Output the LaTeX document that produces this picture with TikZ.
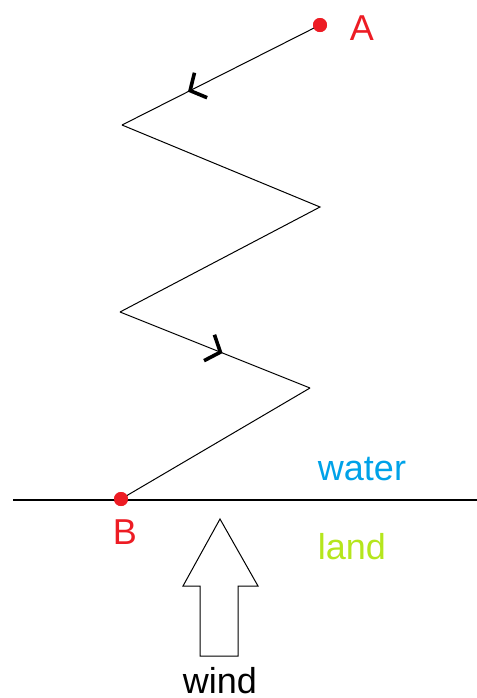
\documentclass[tikz,border=0pt]{standalone}
\usepackage{fontspec}
\setmainfont{Liberation Sans}
\usepackage{tikz}
\usetikzlibrary{arrows.meta,positioning,decorations.markings}
\definecolor{paintred}{HTML}{ED1C24}
\definecolor{paintblue}{HTML}{00A2E8}
\definecolor{paintlime}{HTML}{B5E61D}

\begin{document}
\begin{tikzpicture}[
  x=0.5pt,y=-0.5pt,
  font=\fontsize{18}{18}\selectfont,
  dot/.style={circle,fill=paintred,inner sep=0pt,minimum size=7pt},
  lbl/.style={anchor=base,inner sep=0pt},
  course/.style={line width=0.5pt},
  chev/.style={postaction={decorate},decoration={markings,
    mark=at position #1 with {\arrow[line width=1.8pt]{Straight Barb[length=6pt,width=14pt]}}}}
]
\useasboundingbox (0,0) rectangle (477,698);
\node[dot] (a) at (320,25) {};
\node[dot] (b) at (121,499) {};
\coordinate (t1) at (122,125);
\coordinate (t2) at (320,207);
\coordinate (t3) at (120,312);
\coordinate (t4) at (310,388);
\coordinate (shoreW) at (13,500);
\coordinate (shoreE) at (477,500);
\node[lbl,text=paintred] (alabel) at (362,40) {A};
\node[lbl,text=paintred] (blabel) at (125,544) {B};
\node[lbl,text=paintblue] (water) at (362,480) {water};
\node[lbl,text=paintlime] (land) at (352,559) {land};
\node[lbl] (wind) at (220,693) {wind};
\draw[line width=0.7pt] (shoreW) -- (shoreE);
\draw[course,chev=0.667] (a.center) -- (t1);
\draw[course] (t1) -- (t2) -- (t3);
\draw[course,chev=0.54] (t3) -- (t4);
\draw[course] (t4) -- (b.center);
\node[dot] at (a) {};
\node[dot] at (b) {};
\draw[line width=0.5pt,fill=white] (220,519) -- (258,586) -- (238,586) -- (238,656)
  -- (200,656) -- (200,586) -- (183,586) -- cycle;
\end{tikzpicture}
\end{document}
